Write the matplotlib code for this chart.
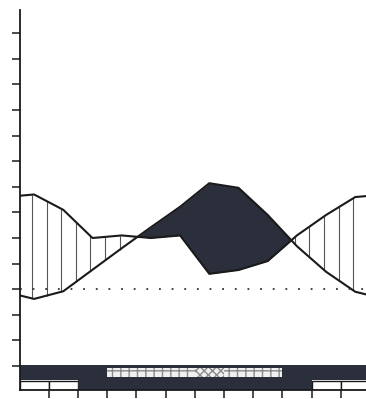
import numpy as np
import matplotlib.pyplot as plt
from matplotlib.patches import Rectangle

# monthly climate values
months = np.arange(12) + 0.5
temp = [-1.9, -0.4, 3.8, 8.0, 12.1, 16.1, 20.7, 19.8, 14.5, 8.4, 3.4, -0.5]   # deg C
precip = [37, 31, 20, 21, 20, 21, 6, 7.5, 11, 21, 29, 36]                     # mm
frost_top = ['dark', 'dark', 'dark', 'light', 'light', 'light', 'dense',
             'light', 'light', 'dark', 'dark', 'dark']
frost_bottom = ['white', 'white', 'dark', 'dark', 'dark', 'dark', 'dark',
                'dark', 'dark', 'dark', 'white', 'white']

dark = '#2b2e3b'
W, H = 366, 399
px = 5.12   # pixels per degree

fig = plt.figure(figsize=(W / 100, H / 100), dpi=100)
ax = fig.add_axes([19.5 / W, 9 / H, (W - 19.5) / W, 380 / H])

# curves, wrapped at the year ends
t_edge = (temp[0] + temp[-1]) / 2
p_edge = (precip[0] + precip[-1]) / 2
x = np.r_[0, months, 12]
t = np.r_[t_edge, temp, t_edge]
p = np.r_[p_edge, precip, p_edge] / 2

ax.fill_between(x, t, p, where=t > p, interpolate=True, color=dark, lw=0)

xs = np.arange(0.43, 12, 0.5)
ti = np.interp(xs, x, t)
pi = np.interp(xs, x, p)
m = pi > ti
ax.vlines(xs[m], ti[m], pi[m], color='#555555', lw=0.8)

ax.plot(x, t, color='#1a1a1a', lw=1.5)
ax.plot(x, p, color='#1a1a1a', lw=1.5)
ax.axhline(0, color='#333333', lw=1.3, ls=(0, (1, 6)))

# frost bars
r1_lo, r1_hi = -15 - 14 / px, -15 + 1 / px
r2_lo, r2_hi = -15 - 24 / px, -15 - 14.5 / px
for i, kind in enumerate(frost_top):
    ax.add_patch(Rectangle((i, r1_lo), 1, r1_hi - r1_lo, color=dark, lw=0))
    if kind != 'dark':
        ax.add_patch(Rectangle((i, r1_lo + 3 / px), 1, r1_hi - r1_lo - 5.5 / px,
                               facecolor='#f0f0f0', edgecolor='#8a8a8a', lw=0,
                               hatch='xxxx' if kind == 'dense' else '++'))
for i, kind in enumerate(frost_bottom):
    if kind == 'dark':
        ax.add_patch(Rectangle((i, r2_lo), 1, r2_hi - r2_lo + 0.6 / px,
                               color=dark, lw=0))
    else:
        ax.add_patch(Rectangle((i, r2_lo), 1, r2_hi - r2_lo, facecolor='white',
                               edgecolor='#1a1a1a', lw=1))

ax.set_xlim(0, (W - 19.5) / 29.2)
ax.set_ylim(-15 - 24 / px, -15 + 356 / px)
ax.set_yticks(np.arange(-15, 51, 5))
ax.set_xticks(np.arange(1, 12))
ax.tick_params(labelleft=False, labelbottom=False, length=6, width=1.1,
               color='#1a1a1a')
for s in ['top', 'right']:
    ax.spines[s].set_visible(False)
for s in ['left', 'bottom']:
    ax.spines[s].set_linewidth(1.3)
    ax.spines[s].set_color('#1a1a1a')

fig.savefig('out.png', dpi=100)
